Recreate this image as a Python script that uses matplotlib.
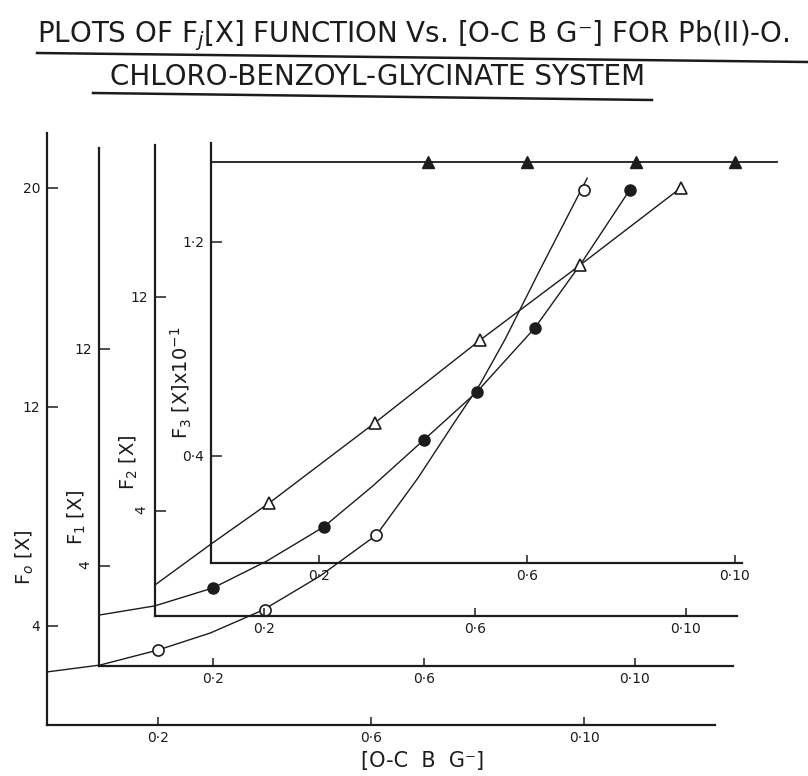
import numpy as np
import matplotlib.pyplot as plt
from matplotlib.lines import Line2D

# x axis ticks, the same on all four staggered panels
x_ticks = [0.2, 0.6, 1.0]
x_ticklabels = ['0·2', '0·6', '0·10']

# F0[X]  (open circles)
f0_x = [0.20, 0.40, 0.61, 1.00]
f0_y = [3.11, 4.57, 7.31, 19.9]
f0_curve_x = [-0.008, 0.091, 0.20, 0.298, 0.397, 0.504, 0.61, 0.688, 0.752, 0.805,
              0.852, 0.917, 1.006]
f0_curve_y = [2.31, 2.56, 3.11, 3.73, 4.57, 5.81, 7.31, 9.39, 11.29, 12.83,
              14.47, 16.99, 20.35]
f0_yticks = [4, 12, 20]

# F1[X]  (filled circles)
f1_x = [0.20, 0.41, 0.60, 0.70, 0.81, 0.99]
f1_y = [3.19, 5.44, 8.65, 10.41, 12.77, 17.86]
f1_curve_x = [-0.016, 0.09, 0.20, 0.302, 0.41, 0.503, 0.60, 0.70, 0.81, 0.90, 0.99]
f1_curve_y = [2.19, 2.53, 3.19, 4.18, 5.44, 6.95, 8.65, 10.41, 12.77, 15.21, 17.86]
f1_yticks = [4, 12]

# F2[X]  (open triangles)
f2_x = [0.21, 0.41, 0.61, 0.80, 0.99]
f2_y = [4.30, 7.29, 10.39, 13.20, 16.07]
f2_curve_x = [-0.007, 0.10, 0.21, 0.41, 0.61, 0.80, 0.99]
f2_curve_y = [1.23, 2.77, 4.30, 7.29, 10.39, 13.20, 16.07]
f2_yticks = [4, 12]

# F3[X] x 10^-1  (filled triangles)
f3_x = [0.41, 0.60, 0.81, 1.00]
f3_y = [1.5, 1.5, 1.5, 1.5]
f3_curve_x = [-0.008, 1.08]
f3_curve_y = [1.5, 1.5]
f3_yticks = [0.4, 1.2]
f3_yticklabels = ['0·4', '1·2']

W, H = 808, 776
ink = '#1c1c1c'
fig = plt.figure(figsize=(W / 100, H / 100), dpi=100)
fig.patch.set_facecolor('white')


def panel(left, top, right, bottom, xlim, ylim):
    ax = fig.add_axes([left / W, 1 - bottom / H, (right - left) / W, (bottom - top) / H])
    ax.set_facecolor('none')
    ax.spines['top'].set_visible(False)
    ax.spines['right'].set_visible(False)
    ax.spines['left'].set_linewidth(1.6)
    ax.spines['bottom'].set_linewidth(1.6)
    ax.spines['left'].set_color(ink)
    ax.spines['bottom'].set_color(ink)
    ax.set_xlim(xlim)
    ax.set_ylim(ylim)
    ax.set_xticks(x_ticks)
    ax.set_xticklabels(x_ticklabels)
    ax.tick_params(axis='x', direction='in', length=6, width=1.1, pad=4,
                   labelsize=10, colors=ink)
    ax.tick_params(axis='y', direction='in', length=8, width=1.1, pad=5,
                   labelsize=10, colors=ink)
    return ax


ax0 = panel(47, 133, 715, 725, (-0.0085, 1.246), (0.37, 22.0))
ax1 = panel(99, 148, 733, 666, (-0.016, 1.186), (0.313, 19.41))
ax2 = panel(155, 145, 737, 616, (-0.0066, 1.097), (0.075, 17.68))
ax3 = panel(211, 143, 742, 563, (-0.0077, 1.0135), (0.0, 1.57))

ax0.set_yticks(f0_yticks)
ax1.set_yticks(f1_yticks)
ax2.set_yticks(f2_yticks)
ax3.set_yticks(f3_yticks)
ax3.set_yticklabels(f3_yticklabels)
ax1.get_yticklabels()[0].set_rotation(90)
ax2.get_yticklabels()[0].set_rotation(90)

ax0.plot(f0_curve_x, f0_curve_y, color=ink, lw=1.0, clip_on=False)
ax0.plot(f0_x, f0_y, 'o', ms=8, mfc='white', mec=ink, mew=1.2, clip_on=False)

ax1.plot(f1_curve_x, f1_curve_y, color=ink, lw=1.0, clip_on=False)
ax1.plot(f1_x, f1_y, 'o', ms=8, mfc=ink, mec=ink, clip_on=False)

ax2.plot(f2_curve_x, f2_curve_y, color=ink, lw=1.0, clip_on=False)
ax2.plot(f2_x, f2_y, '^', ms=9, mfc='white', mec=ink, mew=1.2, clip_on=False)

ax3.plot(f3_curve_x, f3_curve_y, color=ink, lw=1.3, clip_on=False)
ax3.plot(f3_x, f3_y, '^', ms=8, mfc=ink, mec=ink, clip_on=False)

# axis labels
fig.text(25 / W, 1 - 557 / H, 'F$_o$ [X]', rotation=90, ha='center', va='center',
         fontsize=14, color=ink)
fig.text(77 / W, 1 - 517 / H, 'F$_1$ [X]', rotation=90, ha='center', va='center',
         fontsize=14, color=ink)
fig.text(129 / W, 1 - 462 / H, 'F$_2$ [X]', rotation=90, ha='center', va='center',
         fontsize=14, color=ink)
fig.text(181 / W, 1 - 383 / H, 'F$_3$ [X]x10$^{-1}$', rotation=90, ha='center',
         va='center', fontsize=14, color=ink)
fig.text(423 / W, 1 - 761 / H, '[O-C  B  G⁻]', ha='center', va='center',
         fontsize=15, color=ink)

# title with hand-drawn style underlines
fig.text(37 / W, 1 - 42 / H, 'PLOTS OF F$_j$[X] FUNCTION Vs. [O-C B G⁻] FOR Pb(II)-O.',
         ha='left', va='baseline', fontsize=20, color=ink)
fig.text(110 / W, 1 - 85 / H, 'CHLORO-BENZOYL-GLYCINATE SYSTEM',
         ha='left', va='baseline', fontsize=20, color=ink)
fig.add_artist(Line2D([37 / W, 1.0], [1 - 53 / H, 1 - 62 / H], color=ink, lw=1.8))
fig.add_artist(Line2D([93 / W, 652 / W], [1 - 93 / H, 1 - 100 / H], color=ink, lw=1.8))

fig.savefig('out.png', dpi=100)
